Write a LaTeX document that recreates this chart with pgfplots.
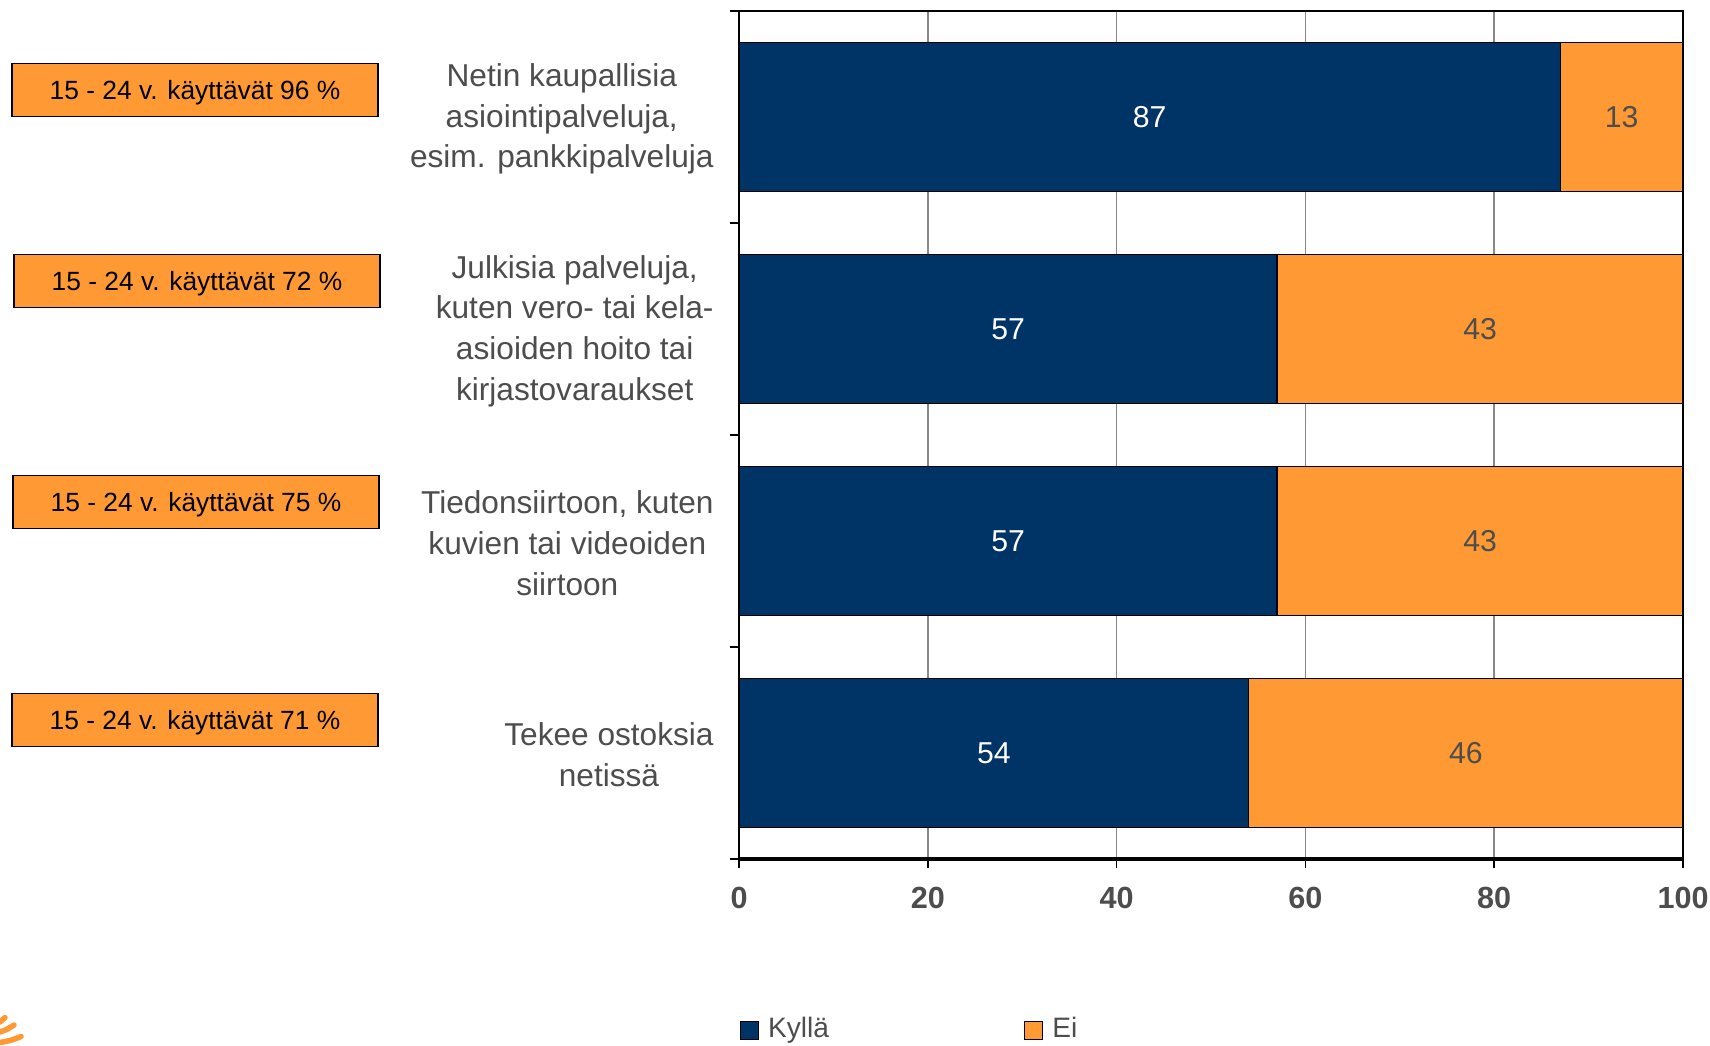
\documentclass[border=0pt]{standalone}
\usepackage{pgfplots}
\pgfplotsset{compat=1.18}
\usepackage{pgfplotstable}
\usepackage{fontspec}
\setmainfont{Liberation Sans}
\definecolor{navy}{RGB}{0,51,102}
\definecolor{orng}{RGB}{255,153,51}
\definecolor{txtgray}{RGB}{77,77,77}
\definecolor{gridgray}{RGB}{136,136,136}
\pgfplotstableread{
pos yes no
3.5 87 13
2.5 57 43
1.5 57 43
0.5 54 46
}\datatable
\begin{document}
\begin{tikzpicture}
\begin{axis}[
  at={(73.9mm,18.6mm)}, anchor=south west,
  scale only axis, width=94.4mm, height=84.8mm,
  xbar stacked, bar width=14.95mm,
  xmin=0, xmax=100, ymin=0, ymax=4,
  xtick={0,20,...,100},
  ytick={0,1,2,3,4}, yticklabels={},
  extra y ticks={0.5,1.5,2.5,3.5},
  extra y tick labels={{Tekee ostoksia\\netissä},{Tiedonsiirtoon, kuten\\kuvien tai videoiden\\siirtoon},{Julkisia palveluja,\\kuten vero- tai kela-\\asioiden hoito tai\\kirjastovaraukset},{Netin kaupallisia\\asiointipalveluja,\\esim. pankkipalveluja}},
  extra y tick style={tick style={draw=none}},
  major tick length=0.9mm,
  tick align=outside,
  xtick pos=bottom, ytick pos=left,
  tick style={black, line width=0.5pt},
  xmajorgrids, grid style={gridgray, line width=0.45pt},
  axis line style={black, line width=0.6pt},
  xticklabel style={font=\fontsize{8.7}{10}\selectfont\bfseries, text=txtgray, yshift=-0.7mm},
  /pgf/number format/assume math mode=true,
  yticklabel style={font=\fontsize{9}{11.6}\selectfont, text=txtgray, align=center, xshift=-0.4mm, yshift=-0.2mm},
  legend columns=2,
  legend style={at={(0.0,-0.202)}, anchor=west, draw=none, fill=none, inner sep=0pt,
    font=\fontsize{8}{10}\selectfont, text=txtgray,
    nodes={inner xsep=0.9mm},
    /tikz/every even column/.append style={column sep=18.6mm}},
  legend image code/.code={\draw[#1] (0mm,-0.9mm) rectangle (1.8mm,0.9mm);},
  clip=false,
]
\addplot[fill=navy, draw=black, line width=0.4pt] table[x=yes, y=pos] {\datatable};
\addplot[fill=orng, draw=black, line width=0.4pt] table[x=no, y=pos] {\datatable};
\legend{Kyllä, Ei}
\draw[black, line width=1.1pt] (axis cs:0,0) -- (axis cs:100,0);
\coordinate (y1) at (axis cs:43.5,3.5);
\coordinate (n1) at (axis cs:93.5,3.5);
\coordinate (y2) at (axis cs:28.5,2.5);
\coordinate (n2) at (axis cs:78.5,2.5);
\coordinate (y3) at (axis cs:28.5,1.5);
\coordinate (n3) at (axis cs:78.5,1.5);
\coordinate (y4) at (axis cs:27,0.5);
\coordinate (n4) at (axis cs:77,0.5);
\end{axis}
\begin{scope}[every node/.style={font=\fontsize{8.6}{10}\selectfont}]
\node[text=white] at (y1) {87};
\node[text=txtgray] at (n1) {13};
\node[text=white] at (y2) {57};
\node[text=txtgray] at (n2) {43};
\node[text=white] at (y3) {57};
\node[text=txtgray] at (n3) {43};
\node[text=white] at (y4) {54};
\node[text=txtgray] at (n4) {46};
\end{scope}
\begin{scope}[every node/.style={draw=black, line width=0.4pt, fill=orng, minimum width=36.6mm, minimum height=5.3mm, inner sep=0pt, text height=1.9mm, text depth=0mm, font=\fontsize{7.5}{9}\selectfont}]
\node at (19.5mm,95.5mm) {15 - 24 v. käyttävät 96 \%};
\node at (19.7mm,76.4mm) {15 - 24 v. käyttävät 72 \%};
\node at (19.6mm,54.3mm) {15 - 24 v. käyttävät 75 \%};
\node at (19.5mm,32.5mm) {15 - 24 v. käyttävät 71 \%};
\end{scope}
\begin{scope}[orng, line width=0.55mm, line cap=round]
\draw (0mm,2.3mm) -- (0.5mm,2.75mm);
\draw (0mm,1.3mm) .. controls (0.7mm,1.55mm) .. (1.4mm,2.0mm);
\draw (0mm,0.25mm) .. controls (1.1mm,0.45mm) .. (2.1mm,0.85mm);
\end{scope}
\pgfresetboundingbox
\useasboundingbox (0,0) rectangle (171mm,104.5mm);
\end{tikzpicture}
\end{document}
